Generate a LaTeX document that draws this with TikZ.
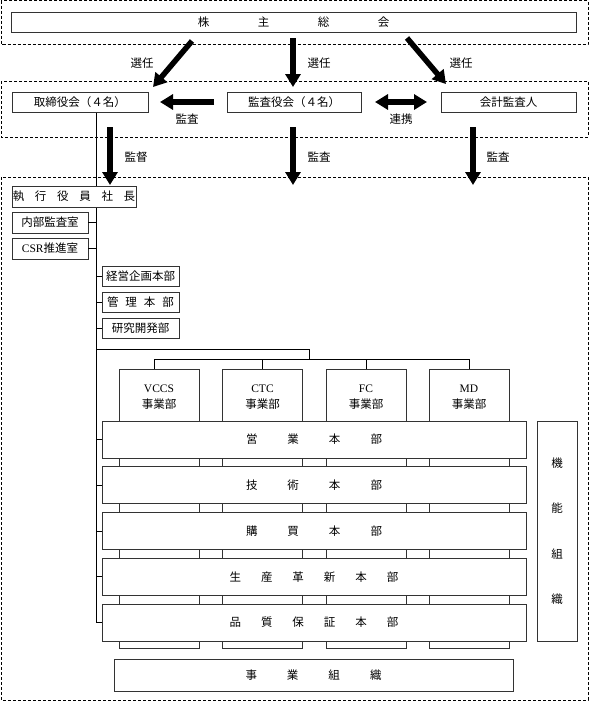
\documentclass[tikz,border=0pt]{standalone}
\usepackage{fontspec}
\setmainfont{Noto Sans CJK JP}
\newfontfamily\lat{Liberation Serif}
\usetikzlibrary{arrows.meta}
\begin{document}
\begin{tikzpicture}[x=1pt,y=-1pt,
  box/.style={draw=black!80, line width=0.8pt, fill=white, inner sep=0pt, font=\fontsize{11.5}{14}\selectfont},
  region/.style={draw, dash pattern=on 3pt off 2pt, line width=0.6pt},
  bigarrow/.style={line width=5.5pt, -{Triangle[width=15pt,length=13pt]}},
  bigdouble/.style={line width=5.5pt, {Triangle[width=15pt,length=13pt]}-{Triangle[width=15pt,length=13pt]}},
  tree/.style={line width=0.7pt, draw=black},
  lbl/.style={font=\fontsize{11.5}{14}\selectfont, inner sep=0pt},
  row/.style={box, minimum width=424pt, minimum height=37pt},
  bu/.style={box, minimum width=80pt, minimum height=279pt},
  sub/.style={box, minimum width=76pt, minimum height=21pt},
  hq/.style={box, minimum width=77pt, minimum height=20pt},
  top/.style={box, minimum height=20pt},
]
\useasboundingbox (0,0) rectangle (589,702);

% regions
\draw[region] (1,0.5) rectangle (588,44);
\draw[region] (1,81) rectangle (588,137);
\draw[region] (1,177) rectangle (588,700);

% top level
\node[top, minimum width=565pt] (gm) at (293.5,22.5) {株\hspace{48.5pt}主\hspace{48.5pt}総\hspace{48.5pt}会};
\node[top, minimum width=136pt] (board) at (80,102.5) {取締役会（４名）};
\node[top, minimum width=134pt] (audit) at (294,102.5) {監査役会（４名）};
\node[top, minimum width=135pt] (acct) at (508.5,102.5) {会計監査人};

% arrow end points
\coordinate (a1s) at (192,41);  \coordinate (a1e) at (153,87);
\coordinate (a2s) at (293,38);  \coordinate (a2e) at (293,87);
\coordinate (a3s) at (407,38);  \coordinate (a3e) at (446,84);
\coordinate (a4s) at (214,102); \coordinate (a4e) at (160,102);
\coordinate (a5s) at (375,102); \coordinate (a5e) at (427,102);
\coordinate (d1s) at (110,127); \coordinate (d1e) at (110,185);
\coordinate (d2s) at (293,127); \coordinate (d2e) at (293,185);
\coordinate (d3s) at (473,127); \coordinate (d3e) at (473,185);

\draw[bigarrow] (a1s) -- (a1e);
\draw[bigarrow] (a2s) -- (a2e);
\draw[bigarrow] (a3s) -- (a3e);
\draw[bigarrow] (a4s) -- (a4e);
\draw[bigdouble] (a5s) -- (a5e);
\draw[bigarrow] (d1s) -- (d1e);
\draw[bigarrow] (d2s) -- (d2e);
\draw[bigarrow] (d3s) -- (d3e);

\node[lbl] (l1) at (142,63) {選任};
\node[lbl] (l2) at (319,63) {選任};
\node[lbl] (l3) at (461,63) {選任};
\node[lbl] (l4) at (187,119) {監査};
\node[lbl] (l5) at (401,119) {連携};
\node[lbl] (l6) at (136,157) {監督};
\node[lbl] (l7) at (319,157) {監査};
\node[lbl] (l8) at (498,157) {監査};

% business unit columns (behind rows)
\node[bu] (vccs) at (159,508.5) {};
\node[bu] (ctc) at (262.5,508.5) {};
\node[bu] (fc) at (366,508.5) {};
\node[bu] (md) at (469,508.5) {};
\node[lbl, align=center, font=\fontsize{11.5}{16}\selectfont] (vccst) at (159,397) {{\lat VCCS}\\事業部};
\node[lbl, align=center, font=\fontsize{11.5}{16}\selectfont] (ctct) at (262.5,397) {{\lat CTC}\\事業部};
\node[lbl, align=center, font=\fontsize{11.5}{16}\selectfont] (fct) at (366,397) {{\lat FC}\\事業部};
\node[lbl, align=center, font=\fontsize{11.5}{16}\selectfont] (mdt) at (469,397) {{\lat MD}\\事業部};

% function rows
\node[row] (eigyo) at (314,439.5) {営\hspace{30pt}業\hspace{30pt}本\hspace{30pt}部};
\node[row] (gijutsu) at (314,485.25) {技\hspace{30pt}術\hspace{30pt}本\hspace{30pt}部};
\node[row] (kobai) at (314,531) {購\hspace{30pt}買\hspace{30pt}本\hspace{30pt}部};
\node[row] (seisan) at (314,576.75) {生\hspace{20pt}産\hspace{20pt}革\hspace{20pt}新\hspace{20pt}本\hspace{20pt}部};
\node[row] (hinshitsu) at (314,622.5) {品\hspace{20pt}質\hspace{20pt}保\hspace{20pt}証\hspace{20pt}本\hspace{20pt}部};

\node[box, minimum width=40pt, minimum height=220pt, align=center, font=\fontsize{11.5}{45.5}\selectfont] (kino) at (557,531) {機\\能\\組\\織};
\node[box, minimum width=399pt, minimum height=32pt] (jigyo) at (313.5,675) {事\hspace{30pt}業\hspace{30pt}組\hspace{30pt}織};

% tree lines
\coordinate (tb) at (96,622.5);
\coordinate (bus1) at (96,349.5);
\coordinate (bus2) at (309,349.5);
\coordinate (bus3) at (309,359);
\coordinate (busL) at (154,359);
\coordinate (busR) at (469,359);
\draw[tree] (board.south -| tb) -- (tb) -- (hinshitsu.west);
\draw[tree] (bus1) -- (bus2) -- (bus3);
\draw[tree] (busL) -- (busR);
\draw[tree] (busL) -- (busL |- vccs.north);
\draw[tree] (ctc.north |- busL) -- (ctc.north);
\draw[tree] (fc.north |- busL) -- (fc.north);
\draw[tree] (md.north |- busL) -- (md.north);
\draw[tree] (tb |- eigyo.west) -- (eigyo.west);
\draw[tree] (tb |- gijutsu.west) -- (gijutsu.west);
\draw[tree] (tb |- kobai.west) -- (kobai.west);
\draw[tree] (tb |- seisan.west) -- (seisan.west);

% executive boxes
\node[box, minimum width=124pt, minimum height=21pt] (pres) at (74,196.5) {執\hspace{10.7pt}行\hspace{10.7pt}役\hspace{10.7pt}員\hspace{10.7pt}社\hspace{10.7pt}長};
\node[sub] (naibu) at (50,222.5) {内部監査室};
\node[sub] (csr) at (50,248.5) {{\lat CSR}推進室};
\node[hq] (keiei) at (140.5,276) {経営企画本部};
\node[hq] (kanri) at (140.5,302) {管\hspace{7pt}理\hspace{7pt}本\hspace{7pt}部};
\node[hq] (kenkyu) at (140.5,328) {研究開発部};

\draw[tree] (naibu.east) -- (naibu.east -| tb);
\draw[tree] (csr.east) -- (csr.east -| tb);
\draw[tree] (tb |- keiei.west) -- (keiei.west);
\draw[tree] (tb |- kanri.west) -- (kanri.west);
\draw[tree] (tb |- kenkyu.west) -- (kenkyu.west);
\end{tikzpicture}
\end{document}
